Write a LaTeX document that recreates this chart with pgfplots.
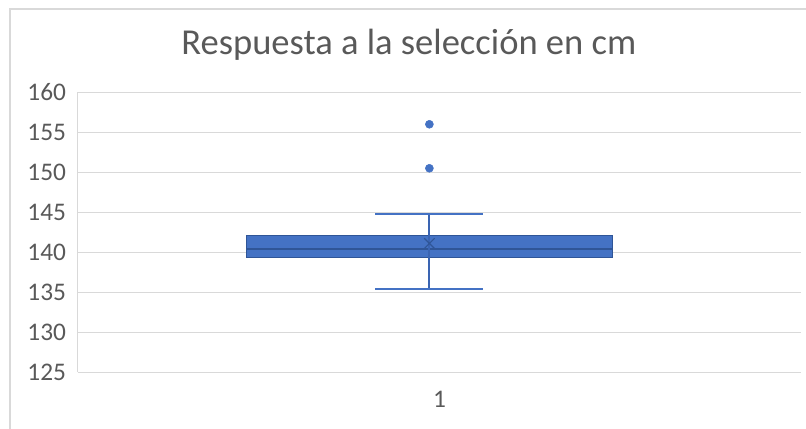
\documentclass[border=0pt]{standalone}
\usepackage{pgfplots}
\pgfplotsset{compat=1.18}
\usetikzlibrary{calc}
\usepackage{fontspec}
\setmainfont{Carlito}
\definecolor{boxblue}{HTML}{4472C4}
\definecolor{boxdark}{HTML}{2F5597}
\definecolor{whisk}{HTML}{3A64B2}
\definecolor{gridgray}{HTML}{D9D9D9}
\definecolor{textgray}{HTML}{595959}
% box-and-whisker summary
\def\pos{0.986}
\def\boxL{0.7335}\def\boxR{1.2386}
\def\capL{0.9108}\def\capR{1.0600}
\begin{document}
\begin{tikzpicture}
\begin{axis}[
  scale only axis,
  width=542.25pt, height=210pt,
  xmin=0.5, xmax=1.5,
  ymin=125, ymax=160,
  ytick={125,130,...,160},
  xtick={1}, xticklabels={1},
  xtick style={draw=none}, ytick style={draw=none},
  ymajorgrids,
  grid style={gridgray, line width=0.75pt},
  axis line style={draw=none},
  /pgf/number format/assume math mode=true,
  tick label style={font=\fontsize{19}{22}\selectfont, text=textgray},
  yticklabel style={xshift=-5.5pt},
  xticklabel style={yshift=-11pt},
  clip=false,
]
  \coordinate (SW) at (rel axis cs:0,0);
  \coordinate (NE) at (rel axis cs:1,1);
  % left edge of the plot area
  \draw[gridgray, line width=0.75pt] (rel axis cs:0,0) -- (rel axis cs:0,1);
  % box between the quartiles
  \addplot[fill=boxblue, draw=boxdark, line width=0.6pt]
    coordinates {(\boxL,139.3) (\boxR,139.3) (\boxR,142.1) (\boxL,142.1)} -- cycle;
  % median
  \addplot[boxdark, line width=1pt] coordinates {(\boxL,140.4) (\boxR,140.4)};
  % whiskers and caps
  \addplot[whisk, line width=1.4pt] coordinates {(\pos,135.4) (\pos,144.8)};
  \addplot[boxblue, line width=1.4pt] coordinates {(\capL,144.8) (\capR,144.8)};
  \addplot[boxblue, line width=1.4pt] coordinates {(\capL,135.4) (\capR,135.4)};
  % mean
  \addplot[only marks, mark=x, mark size=5.5pt, draw=boxdark, line width=0.9pt]
    coordinates {(\pos,141.1)};
  % outliers
  \addplot[only marks, mark=*, mark size=3pt, fill=boxblue, draw=boxblue]
    coordinates {(\pos,156) (\pos,150.5)};
\end{axis}
\pgfresetboundingbox
\path[use as bounding box] ($(SW)+(-58.5pt,-41.8pt)$) rectangle ($(NE)+(3.75pt,69.2pt)$);
% chart frame
\draw[gridgray, line width=1pt]
  ($(SW)+(-51pt,-45pt)$) -- ($(SW |- NE)+(-51pt,62.5pt)$) -- ($(NE)+(10pt,62.5pt)$);
\node[text=textgray, font=\fontsize{27.4}{31}\selectfont, anchor=base]
  at ($(SW |- NE)!0.5!(NE)+(-23pt,28.5pt)$) {Respuesta a la selección en cm};
\end{tikzpicture}
\end{document}
